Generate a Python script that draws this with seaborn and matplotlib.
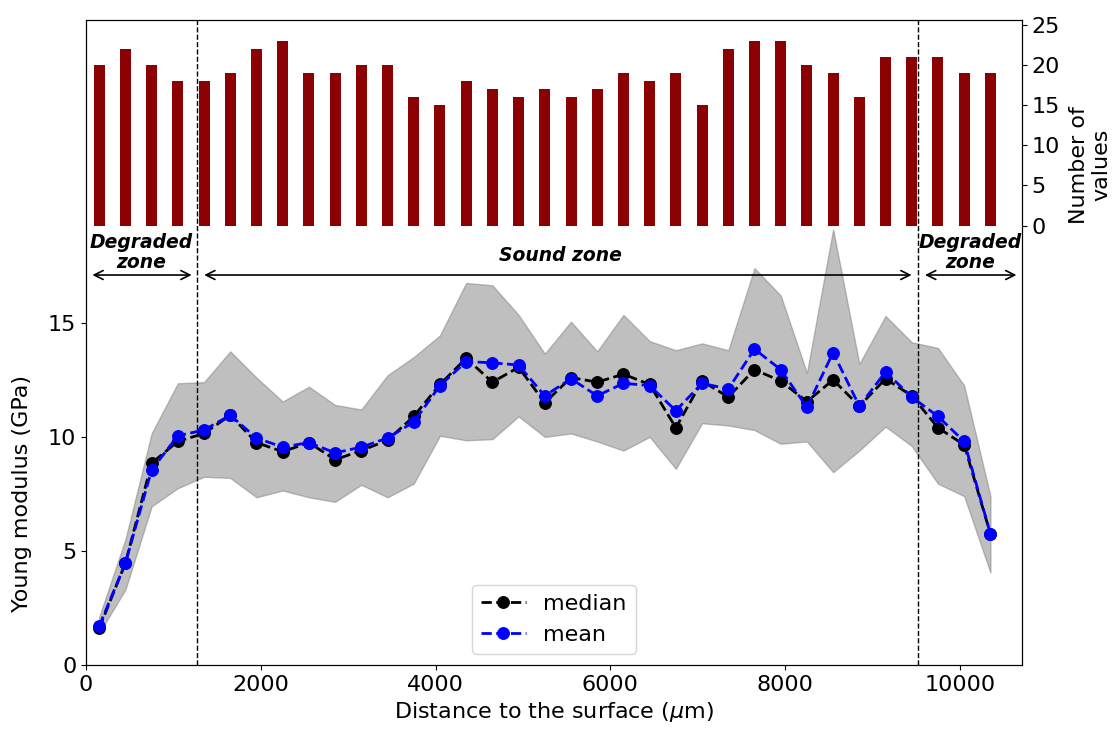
# Young modulus profile vs distance to the surface, with number of values per bin

import matplotlib
matplotlib.use('Agg')
import matplotlib.pyplot as plt
import seaborn as sns

# bin centres (um)
depth = [150, 450, 750, 1050, 1350, 1650, 1950, 2250, 2550, 2850, 3150, 3450,
         3750, 4050, 4350, 4650, 4950, 5250, 5550, 5850, 6150, 6450, 6750, 7050,
         7350, 7650, 7950, 8250, 8550, 8850, 9150, 9450, 9750, 10050, 10350]

# young modulus (GPa)
median = [1.6, 4.46, 8.85, 9.8, 10.15, 10.95, 9.75, 9.35, 9.75, 9.0, 9.4, 9.85,
          10.9, 12.3, 13.45, 12.4, 13.05, 11.5, 12.6, 12.4, 12.75, 12.3, 10.4, 12.45,
          11.75, 12.95, 12.45, 11.55, 12.5, 11.35, 12.55, 11.8, 10.4, 9.65, 5.75]
mean = [1.7, 4.46, 8.55, 10.05, 10.3, 10.95, 9.95, 9.55, 9.75, 9.3, 9.55, 9.95,
        10.65, 12.25, 13.3, 13.25, 13.15, 11.8, 12.55, 11.8, 12.35, 12.25, 11.15, 12.35,
        12.1, 13.85, 12.95, 11.3, 13.7, 11.35, 12.85, 11.75, 10.9, 9.8, 5.75]
upper = [2.1, 5.5, 10.15, 12.35, 12.4, 13.75, 12.6, 11.55, 12.2, 11.4, 11.2, 12.7,
         13.5, 14.45, 16.75, 16.65, 15.35, 13.65, 15.05, 13.75, 15.35, 14.2, 13.8, 14.1,
         13.8, 17.4, 16.2, 12.8, 19.1, 13.2, 15.3, 14.15, 13.9, 12.25, 7.4]
lower = [1.4, 3.3, 6.95, 7.75, 8.25, 8.2, 7.35, 7.65, 7.35, 7.15, 7.9, 7.35,
         7.95, 10.05, 9.85, 9.9, 10.9, 10.0, 10.15, 9.8, 9.4, 10.0, 8.6, 10.6,
         10.5, 10.3, 9.7, 9.8, 8.45, 9.4, 10.45, 9.6, 7.95, 7.4, 4.05]

# number of values in each bin
counts = [20, 22, 20, 18, 18, 19, 22, 23, 19, 19, 20, 20, 16, 15, 18, 17, 16, 17,
          16, 17, 19, 18, 19, 15, 22, 23, 23, 20, 19, 16, 21, 21, 21, 19, 19]

# zone limits (um)
zone_limits = [1270, 9525]

plt.rcParams['font.size'] = 16

fig = plt.figure(figsize=(11.18, 7.29), dpi=100)
ax = fig.add_axes([0.077, 0.088, 0.837, 0.885])

# band + median/mean curves
ax.fill_between(depth, lower, upper, color='gray', alpha=0.5)
sns.lineplot(x=depth, y=median, ax=ax, color='k', linestyle='--', linewidth=2,
             marker='o', markersize=8.5, markeredgecolor='k', label='median')
sns.lineplot(x=depth, y=mean, ax=ax, color='b', linestyle='--', linewidth=2,
             marker='o', markersize=8.5, markeredgecolor='b', label='mean')

for z in zone_limits:
    ax.axvline(z, color='k', linestyle='--', linewidth=1)

# zone arrows and labels
arrow = dict(arrowstyle='<->', color='k', linewidth=1.2)
ax.annotate('', xy=(40, 17.1), xytext=(1240, 17.1), arrowprops=arrow)
ax.annotate('', xy=(1320, 17.1), xytext=(9480, 17.1), arrowprops=arrow)
ax.annotate('', xy=(9570, 17.1), xytext=(10680, 17.1), arrowprops=arrow)
txt = dict(ha='center', va='center', fontsize=13.5, fontweight='bold', fontstyle='italic')
ax.text(630, 18.1, 'Degraded\nzone', linespacing=1.05, **txt)
ax.text(5430, 17.95, 'Sound zone', **txt)
ax.text(10120, 18.1, 'Degraded\nzone', linespacing=1.05, **txt)

ax.set_xlim(0, 10710)
ax.set_ylim(0, 28.3)
ax.set_yticks([0, 5, 10, 15])
ax.set_xlabel('Distance to the surface ($\\mu$m)')
ax.set_ylabel('Young modulus (GPa)')
ax.yaxis.set_label_coords(-0.058, 0.265)
ax.legend(loc='lower center', fontsize=16)

# number of values on a twin axis
ax2 = ax.twinx()
sns.barplot(x=depth, y=counts, ax=ax2, native_scale=True, width=0.42,
            color='darkred', saturation=1)
ax2.set_xlim(0, 10710)
ax2.set_ylim(-54.6, 25.6)
ax2.set_yticks([0, 5, 10, 15, 20, 25])
ax2.set_ylabel('Number of\nvalues')
ax2.yaxis.set_label_coords(1.05, 0.775)

plt.savefig('out.png', dpi=100)
